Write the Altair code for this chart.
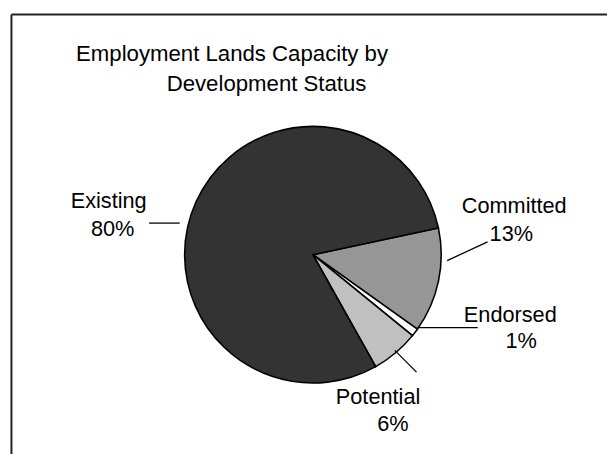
import math
import altair as alt
import pandas as pd

# ---- data ----
categories = ["Committed", "Endorsed", "Potential", "Existing"]
values = [13.2, 1.0, 6.0, 79.8]
colors = ["#969696", "#ffffff", "#c0c0c0", "#333333"]
title_lines = ["Employment Lands Capacity by", "Development Status"]

df = pd.DataFrame({"category": categories, "value": values, "order": list(range(len(categories)))})
one = pd.DataFrame({"k": [0]})

OFF = 8  # page margin
FONT = "Liberation Sans"
W, H = 607, 446
LABEL_SIZE = 22


def P(v):
    return v - OFF


start = math.radians(78)

base = alt.Chart(df).transform_joinaggregate(total="sum(value)").transform_calculate(
    pct="format(datum.value / datum.total, '.0%')"
)

pie = base.mark_arc(outerRadius=130, stroke="black", strokeWidth=1.6).encode(
    theta=alt.Theta("value:Q", stack=True, scale=alt.Scale(range=[start, start + 2 * math.pi])),
    color=alt.Color("category:N", scale=alt.Scale(domain=categories, range=colors), legend=None),
    order=alt.Order("order:Q"),
    x=alt.value(P(317)),
    y=alt.value(P(255)),
)

layers = [pie]

# labels: (category, name center x, name baseline y, pct center x, pct baseline y)
label_pos = {
    "Existing": (110, 208, 114, 236),
    "Committed": (521, 213, 518, 241),
    "Endorsed": (517, 323, 528, 350),
    "Potential": (383, 406, 398, 434),
}
for cat, (nx, ny, px, py) in label_pos.items():
    sub = base.transform_filter(alt.datum.category == cat)
    layers.append(
        sub.mark_text(font=FONT, fontSize=LABEL_SIZE, align="center", baseline="alphabetic", color="black").encode(
            text="category:N", x=alt.value(P(nx)), y=alt.value(P(ny))
        )
    )
    layers.append(
        sub.mark_text(font=FONT, fontSize=LABEL_SIZE, align="center", baseline="alphabetic", color="black").encode(
            text="pct:N", x=alt.value(P(px)), y=alt.value(P(py))
        )
    )

# leader lines
leaders = [
    (151, 223, 182, 223),
    (453, 261, 494, 242),
    (423, 329, 484, 329),
    (400, 352, 422, 374),
]
for x1, y1, x2, y2 in leaders:
    layers.append(
        alt.Chart(one).mark_rule(color="black", strokeWidth=1.3).encode(
            x=alt.value(P(x1)), y=alt.value(P(y1)), x2=alt.value(P(x2)), y2=alt.value(P(y2))
        )
    )

# title
title_pos = [(235, 59), (270, 89)]
for line, (tx, ty) in zip(title_lines, title_pos):
    layers.append(
        alt.Chart(one).mark_text(font=FONT, fontSize=22.5, align="center", baseline="alphabetic", color="black").encode(
            text=alt.value(line), x=alt.value(P(tx)), y=alt.value(P(ty))
        )
    )

# chart-area frame (left and top edges visible)
layers.append(
    alt.Chart(one).mark_rule(color="#222222", strokeWidth=2).encode(
        x=alt.value(P(11.5)), y=alt.value(P(11.5)), x2=alt.value(W + 10), y2=alt.value(P(11.5))
    )
)
layers.append(
    alt.Chart(one).mark_rule(color="#222222", strokeWidth=2).encode(
        x=alt.value(P(11.5)), y=alt.value(P(11.5)), x2=alt.value(P(11.5)), y2=alt.value(H + 10)
    )
)

chart = alt.layer(*layers).properties(
    width=W, height=H, padding=0, autosize=alt.AutoSizeParams(type="none"), background="white"
).configure_view(stroke=None)

chart.save("out.html", embed_options={"renderer": "svg", "actions": False})
